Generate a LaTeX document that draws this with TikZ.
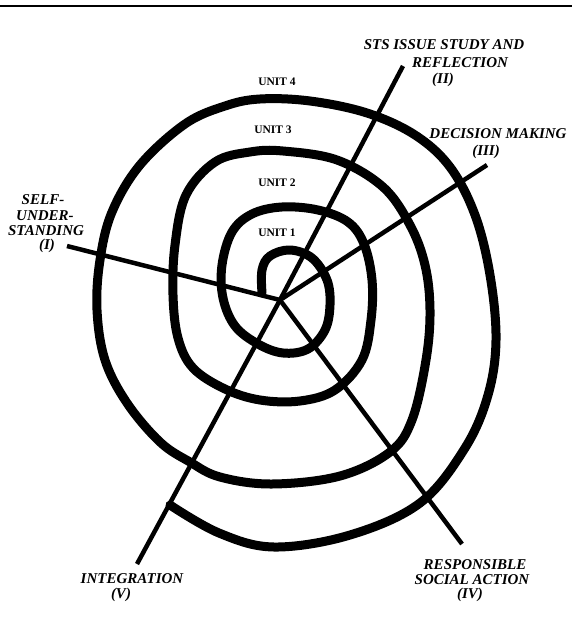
\documentclass[tikz,border=0pt]{standalone}
\usepackage{fontspec}
\setmainfont{Liberation Serif}
\begin{document}
\begin{tikzpicture}[x=1pt,y=-1pt,
  spiralline/.style={line width=9pt, line cap=round, line join=round},
  ray/.style={line width=4.5pt, line cap=butt},
  lab/.style={font=\fontsize{15}{17}\selectfont\bfseries\itshape, inner sep=0pt},
  unitlab/.style={font=\fontsize{11.5}{13}\selectfont\bfseries, inner sep=0pt}]
\useasboundingbox (0,0) rectangle (572,623);
\draw[line width=1.5pt] (0,6) -- (572,6);

% spiral
\draw[spiralline] plot[smooth, tension=0.6] coordinates {
 (262,293) (262,270) (270,256) (290,250) (312,258) (327,280) (330,305)
 (325,330) (308,349) (283,353) (258,344) (235,326) (223,298) (222,265)
 (232,232) (252,214) (282,207) (318,210) (348,222) (364,244) (372,280)
 (371,320) (362,360) (335,390) (300,401) (260,400) (225,389) (193,368)
 (178,338) (173,295) (175,245) (186,195) (215,162) (250,152) (283,151)
 (337,160) (383,187) (410,225) (425,265) (430,310) (426,360) (412,420)
 (390,452) (340,476) (272,484) (220,477) (190,462) (160,442) (127,403)
 (105,360) (97,310) (100,260) (112,212) (140,165) (185,124) (225,106)
 (260,99) (310,101) (367,113) (415,135) (450,167) (475,215) (490,275)
 (496,340) (488,395) (465,448) (420,503) (350,535) (274,547) (219,533)
 (170,505)};

% radial lines
\coordinate (hub) at (280,300);
\coordinate (eI) at (67,246);
\coordinate (eII) at (403,66);
\coordinate (eIII) at (487,165);
\coordinate (eIV) at (462,544);
\coordinate (eV) at (137,564);
\draw[ray] (hub) -- (eI);
\draw[ray] (hub) -- (eII);
\draw[ray] (hub) -- (eIII);
\draw[ray] (hub) -- (eIV);
\draw[ray] (hub) -- (eV);

% unit labels
\node[unitlab] (u4) at (277,82) {UNIT 4};
\node[unitlab] (u3) at (273,130) {UNIT 3};
\node[unitlab] (u2) at (277,183) {UNIT 2};
\node[unitlab] (u1) at (277,233) {UNIT 1};

% stage labels
\node[lab] (l2a) at (444,45) {STS ISSUE STUDY AND};
\node[lab] (l2b) at (460,63) {REFLECTION};
\node[lab] (l2c) at (443,80) {(II)};
\node[lab] (l3a) at (498,134) {DECISION MAKING};
\node[lab] (l3b) at (486,152) {(III)};
\node[lab] (l1a) at (43,200) {SELF-};
\node[lab] (l1b) at (45,216) {UNDER-};
\node[lab] (l1c) at (46,231) {STANDING};
\node[lab] (l1d) at (47,246) {(I)};
\node[lab] (l5a) at (132,579) {INTEGRATION};
\node[lab] (l5b) at (121,595) {(V)};
\node[lab] (l4a) at (475,565) {RESPONSIBLE};
\node[lab] (l4b) at (472,580) {SOCIAL ACTION};
\node[lab] (l4c) at (470,595) {(IV)};
\end{tikzpicture}
\end{document}
